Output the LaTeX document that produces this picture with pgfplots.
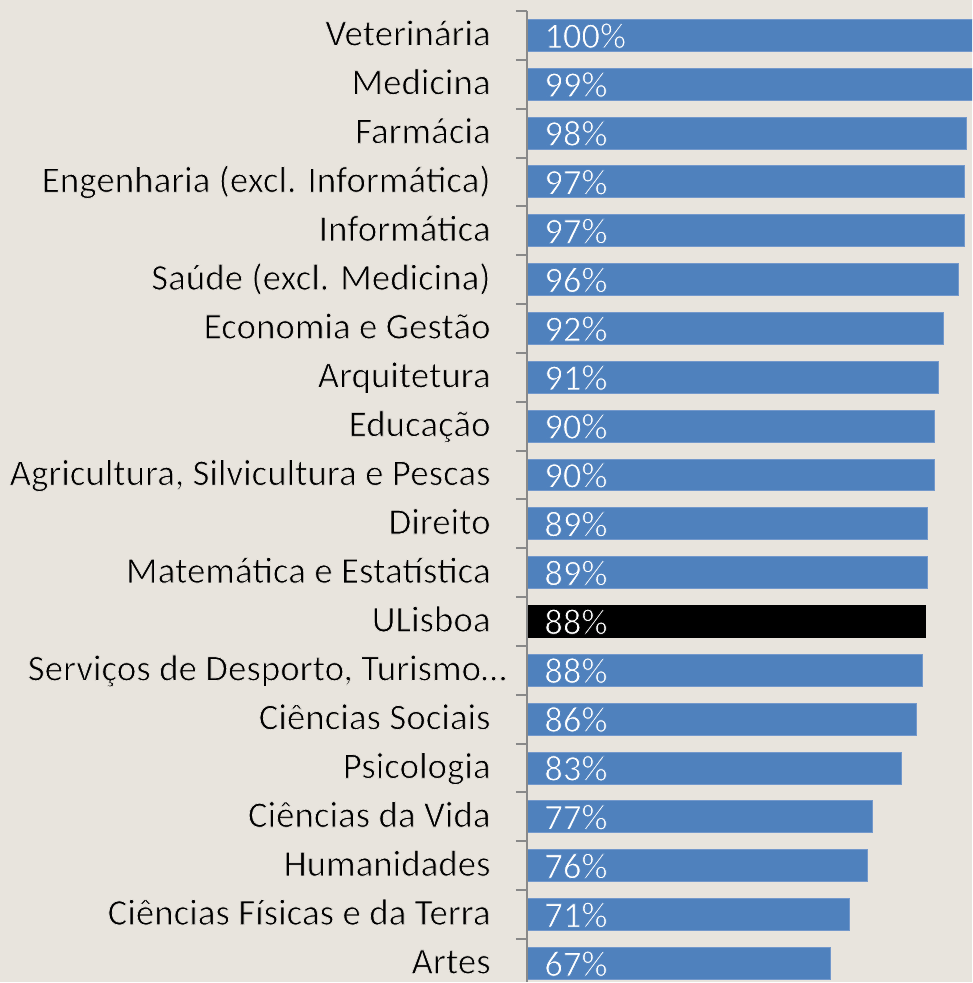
\documentclass[border=0pt]{standalone}
\usepackage{pgfplots}
\pgfplotsset{compat=1.18}
\usepackage{pgfplotstable}
\usepackage{fontspec}
\setmainfont{Carlito}
\usetikzlibrary{backgrounds}
\definecolor{bg}{HTML}{E8E4DD}
\definecolor{barblue}{HTML}{4F81BD}
\definecolor{baredge}{HTML}{7398CB}
\definecolor{axgray}{HTML}{898989}
% thin the glyphs a little (Calibri Light look): stroke outline in the surrounding colour
\newcommand\thinT[2]{\special{pdf:literal direct 2 Tr 0.36 w #1 RG}#2\special{pdf:literal direct 0 Tr}}
\newcommand\tl[1]{\thinT{0.91 0.894 0.867}{#1}}

\pgfplotstableread{
y val lab
19 100 100
18 99.5 99
17 97.5 98
16 97.1 97
15 96.9 97
14 95.7 96
13 92.4 92
12 91.3 91
11 90.4 90
10 90.3 90
9 88.8 89
8 88.7 89
6 87.6 88
5 86.4 86
4 83.1 83
3 76.5 77
2 75.6 76
1 71.4 71
0 67.4 67
}\blueTable

\pgfplotstableread{
y val lab
7 88.4 88
}\uniTable

\begin{document}
\begin{tikzpicture}
\begin{axis}[
  scale only axis, width=222.75pt, height=491.5pt,
  xmin=0, xmax=98.67, ymin=-0.38, ymax=19.725,
  axis line style={draw=none},
  xtick=\empty,
  ytick={0,...,19},
  yticklabels={\tl{Artes}, \tl{Ciências Físicas e da Terra}, \tl{Humanidades}, \tl{Ciências da Vida}, \tl{Psicologia}, \tl{Ciências Sociais}, \tl{Serviços de Desporto, Turismo…}\hspace*{-8pt}, \tl{ULisboa}, \tl{Matemática e Estatística}, \tl{Direito}, \tl{Agricultura, Silvicultura e Pescas}, \tl{Educação}, \tl{Arquitetura}, \tl{Economia e Gestão}, \tl{Saúde (excl. Medicina)}, \tl{Informática}, \tl{Engenharia (excl. Informática)}, \tl{Farmácia}, \tl{Medicina}, \tl{Veterinária}},
  minor ytick={0.5,1.5,...,19.5},
  major tick length=0pt,
  minor tick length=5.5pt,
  tick align=outside,
  ytick pos=left,
  minor y tick style={axgray, line width=1pt},
  major y tick style={draw=none},
  yticklabel style={anchor=base east, inner sep=0pt, xshift=-18pt, yshift=-5.1pt, font=\fontsize{18.5}{22}\selectfont, text=black},
  clip=true,
]
\addplot[xbar, bar width=0.654, bar shift=0pt, fill=barblue, draw=baredge, line width=0.5pt] table[x=val, y=y]{\blueTable};
\addplot[xbar, bar width=0.654, bar shift=0pt, fill=black, draw=black, line width=0.5pt] table[x=val, y=y]{\uniTable};
\addplot[draw=none, mark=none, point meta=explicit symbolic, nodes near coords={\thinT{0.31 0.506 0.741}{\pgfplotspointmeta\%}},
  nodes near coords style={anchor=base west, inner sep=0pt, xshift=8.5pt, yshift=-6.3pt, text=white, font=\fontsize{18.3}{22}\selectfont}]
  table[x expr=0, y=y, meta=lab]{\blueTable};
\addplot[draw=none, mark=none, point meta=explicit symbolic, nodes near coords={\thinT{0 0 0}{\pgfplotspointmeta\%}},
  nodes near coords style={anchor=base west, inner sep=0pt, xshift=8.5pt, yshift=-6.3pt, text=white, font=\fontsize{18.3}{22}\selectfont}]
  table[x expr=0, y=y, meta=lab]{\uniTable};
\coordinate (axtop) at (axis cs:0,19.5);
\end{axis}
\draw[axgray, line width=1pt] (axtop) -- (axtop |- current axis.south);
\begin{scope}[on background layer]
\fill[bg] ([xshift=-486.5pt]current axis.south east) rectangle (current axis.north east);
\end{scope}
\end{tikzpicture}
\end{document}
